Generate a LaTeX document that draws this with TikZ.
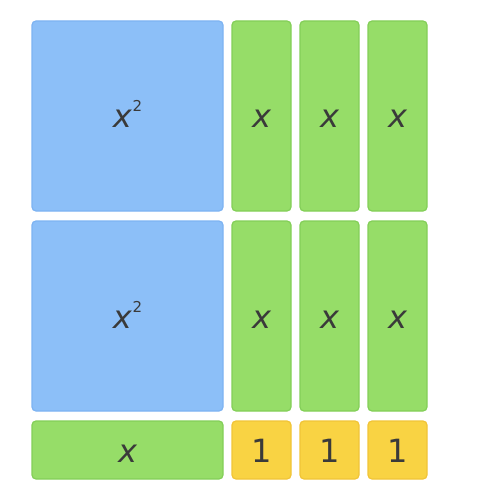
\documentclass[tikz,border=0pt]{standalone}
\usepackage{fontspec}
\setmainfont{DejaVu Sans}
\usetikzlibrary{positioning}

\definecolor{tileblue}{HTML}{8CBFF8}
\definecolor{blueline}{HTML}{7DB3F2}
\definecolor{tilegreen}{HTML}{96DD68}
\definecolor{greenline}{HTML}{83CF58}
\definecolor{tileyellow}{HTML}{F9D343}
\definecolor{yellowline}{HTML}{F1C437}
\definecolor{labelgray}{HTML}{3A3A3A}

\newcommand{\xsq}{{\itshape x}\kern1pt\smash{\raisebox{16pt}{\fontsize{15}{15}\selectfont 2}}}

\begin{document}
\begin{tikzpicture}[x=1pt,y=1pt]

	\tikzset{
		tile/.style={
				rectangle, rounded corners=4pt, line width=1.2pt, inner sep=0pt, outer sep=0pt,
				text=labelgray, text height=24pt, text depth=0pt, font=\fontsize{32}{32}\selectfont
			},
		sqtile/.style={
				tile, draw=blueline, fill=tileblue, minimum width=191pt, minimum height=190pt
			},
		bartile/.style={
				tile, draw=greenline, fill=tilegreen, minimum width=59pt, minimum height=190pt
			},
		flatbar/.style={
				tile, draw=greenline, fill=tilegreen, minimum width=191pt, minimum height=58pt
			},
		unittile/.style={
				tile, draw=yellowline, fill=tileyellow, minimum width=59pt, minimum height=58pt
			},
	}
	\useasboundingbox (0,0) rectangle (500,-500);

	\node[sqtile, anchor=north west](sq1) at (32,-21){\xsq};
	\node[sqtile, below=10pt of sq1](sq2){\xsq};
	\node[flatbar, below=10pt of sq2](xb){\itshape x};

	\node[bartile, right=9pt of sq1](b1){\itshape x};
	\node[bartile, right=9pt of b1](b2){\itshape x};
	\node[bartile, right=9pt of b2](b3){\itshape x};

	\node[bartile, right=9pt of sq2](b4){\itshape x};
	\node[bartile, right=9pt of b4](b5){\itshape x};
	\node[bartile, right=9pt of b5](b6){\itshape x};

	\node[unittile, below=10pt of b4](u1){1};
	\node[unittile, below=10pt of b5](u2){1};
	\node[unittile, below=10pt of b6](u3){1};

\end{tikzpicture}
\end{document}
